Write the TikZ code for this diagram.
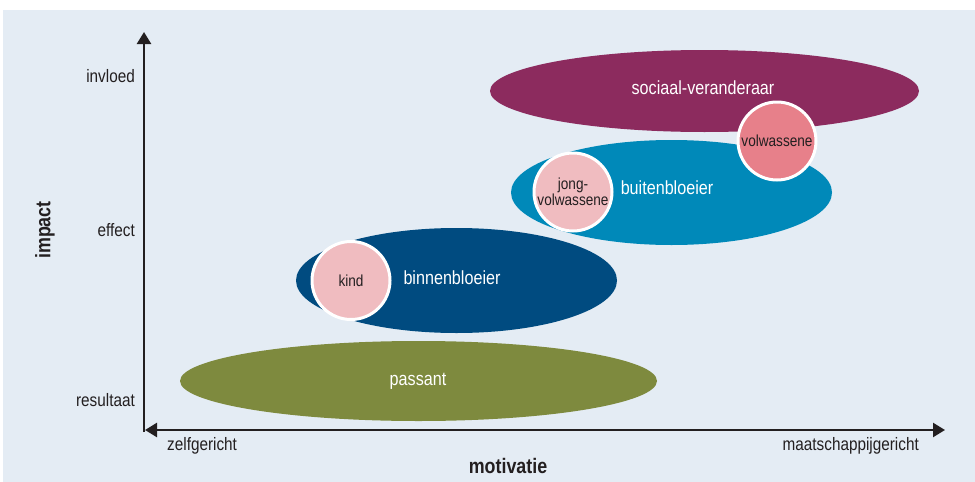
\documentclass[tikz,border=0pt]{standalone}
\usepackage{fontspec}
\setmainfont{Liberation Sans}[FakeStretch=0.85]
\usetikzlibrary{shapes.geometric,arrows.meta}
\definecolor{bgc}{HTML}{E4ECF4}
\definecolor{purp}{HTML}{8C2B5E}
\definecolor{teal2}{HTML}{0089B9}
\definecolor{dblue}{HTML}{004B80}
\definecolor{olive2}{HTML}{7E8A3E}
\definecolor{pinkl}{HTML}{F0BCC0}
\definecolor{pinkd}{HTML}{E7808A}
\definecolor{txt}{HTML}{231F20}
\tikzset{
  blob/.style={ellipse, inner sep=0pt, draw=none},
  blobtext/.style={text=white, font=\fontsize{19}{21}\selectfont, inner sep=0pt},
  stage/.style={circle, draw=white, line width=3pt, minimum size=78pt, inner sep=0pt,
     text=txt, font=\fontsize{16}{13}\selectfont, align=center},
  axis/.style={line width=2.4pt, draw=txt},
  tick/.style={text=txt, font=\fontsize{18}{20}\selectfont, inner sep=0pt},
  axtitle/.style={text=txt, font=\bfseries\fontsize{21}{23}\selectfont, inner sep=0pt}
}
\begin{document}
\begin{tikzpicture}[x=1pt,y=-1pt]
\useasboundingbox (0,0) rectangle (975,482);
\fill[bgc] (3,10) rectangle (975,482);
% ellipses
\node[blob, fill=olive2, minimum width=477pt, minimum height=80pt] (passant) at (418.5,381) {};
\node[blob, fill=dblue, minimum width=321pt, minimum height=105pt] (binnen) at (456.5,280.5) {};
\node[blob, fill=teal2, minimum width=321pt, minimum height=105pt] (buiten) at (671.5,192.5) {};
\node[blob, fill=purp, minimum width=429pt, minimum height=82pt] (sociaal) at (704.5,91) {};
% circles
\node[stage, fill=pinkd] (volw) at (777,141) {volwassene};
\node[stage, fill=pinkl] (jong) at (573,192) {jong-\\volwassene};
\node[stage, fill=pinkl] (kind) at (351,280.5) {kind};
% ellipse labels
\node[blobtext] (tpassant) at (418,381) {passant};
\node[blobtext] (tbinnen) at (452,278) {binnenbloeier};
\node[blobtext] (tbuiten) at (667,188) {buitenbloeier};
\node[blobtext] (tsociaal) at (703,88) {sociaal-veranderaar};
% axes
\coordinate (orig) at (144,432);
\coordinate (ytop) at (144,32);
\coordinate (xl) at (145,430);
\coordinate (xr) at (945,430);
\draw[axis, -{Triangle[width=14pt,length=12pt]}] (orig) -- (ytop);
\draw[axis, {Triangle[width=14pt,length=12pt]}-{Triangle[width=14pt,length=12pt]}] (xl) -- (xr);
% labels
\node[tick, anchor=east] (invloed) at (135,76) {invloed};
\node[tick, anchor=east] (effect) at (135,230) {effect};
\node[tick, anchor=east] (resultaat) at (135,400) {resultaat};
\node[axtitle, rotate=90] (impact) at (45,230) {impact};
\node[tick, anchor=west] (zelf) at (167,446) {zelfgericht};
\node[tick, anchor=east] (maat) at (919,446) {maatschappijgericht};
\node[axtitle] (motiv) at (508,466) {motivatie};
\end{tikzpicture}
\end{document}
